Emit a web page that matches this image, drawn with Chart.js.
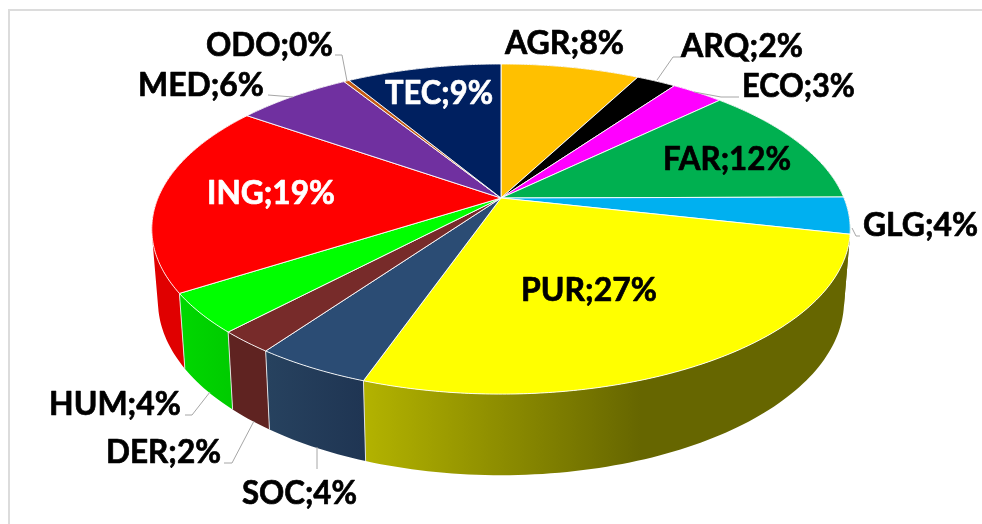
<!DOCTYPE html>
<html>
<head>
<meta charset="utf-8">
<style>html,body{margin:0;padding:0;background:#fff}canvas{display:block}</style>
<script src="https://cdn.jsdelivr.net/npm/chart.js@4"></script>
</head>
<body>
<canvas id="c" width="982" height="524"></canvas>
<script>
const categories = ['AGR','ARQ','ECO','FAR','GLG','PUR','SOC','DER','HUM','ING','MED','ODO','TEC'];
const values = [7.7,2.2,2.9,12.1,3.6,26.85,4.52,2.18,3.9,18.75,6.4,0.3,8.6];
const percentLabels = ['8%','2%','3%','12%','4%','27%','4%','2%','4%','19%','6%','0%','9%'];
const topColors = ['#FFC000','#000000','#FF00FF','#00B050','#00B0F0','#FFFF00','#2B4C74','#772B2A','#00FF00','#FF0000','#7030A0','#C55A11','#002060'];
const wallStart = ['#997300','#000000','#990099','#006A30','#666600','#B3B300','#27425F','#5F2321','#00D800','#E00000','#431D60','#76360A','#001339'];
const wallEnd   = ['#997300','#000000','#990099','#006A30','#666600','#666600','#1F3553','#5F2321','#00CC00','#E00000','#431D60','#76360A','#001339'];
const labelColors = ['#000','#000','#000','#000','#000','#000','#000','#000','#000','#fff','#000','#000','#fff'];
// [left x, baseline y, width] per category
const labelPlace = [[505,54,119],[681,57,122],[742,97,113],[663,170,128],[863,236,115],[521,301,136],[242,504,115],[106,463,115],[49,415,132],[207,204,128],[138,96,126],[206,56,127],[385,104,108]];
const leaders = [
  [[681,57],[673,57],[657,80]],
  [[739,97],[721,97],[694,92]],
  [[860,236],[856,236],[852,228]],
  [[185,415],[192,415],[210,392]],
  [[224,463],[232,463],[254,421]],
  [[317,447],[317,469]],
  [[268,95],[293,97]],
  [[335,55],[342,55],[347,81]]
];
// perspective projection of the unit disc: top face and bottom face
const topFace = {cx:501, R:343, a:122, b:198, p:-0.188};
const botFace = {cx:501, R:336.8, a:116.9, b:268, p:-0.19};
function proj(f, ang){
  const X = Math.cos(ang), Y = Math.sin(ang), d = 1 + f.p * Y;
  return [f.cx + f.R * X / d, (f.a * Y + f.b) / d];
}
const pie3d = {
  id:'pie3d',
  beforeDraw(chart){
    const ctx = chart.ctx;
    ctx.save();
    ctx.fillStyle='#fff'; ctx.fillRect(0,0,982,524);
    ctx.strokeStyle='#dcdcdc'; ctx.lineWidth=2;
    ctx.beginPath(); ctx.moveTo(9,524); ctx.lineTo(9,10); ctx.lineTo(982,10); ctx.stroke();
    ctx.restore();
  },
  beforeDatasetsDraw(chart){
    const ctx = chart.ctx;
    const arcs = chart.getDatasetMeta(0).data;
    ctx.save();
    // walls, back to front; every slice is one path of same-wound quads
    const order = arcs.map((a,i)=>i).sort((i,j)=>
      Math.sin((arcs[i].startAngle+arcs[i].endAngle)/2)-Math.sin((arcs[j].startAngle+arcs[j].endAngle)/2));
    order.forEach(i=>{
      const s=arcs[i].startAngle, e=arcs[i].endAngle;
      const n=Math.max(2,Math.ceil((e-s)/0.02));
      const x0=proj(topFace,s)[0], x1=proj(topFace,e)[0];
      const lo=Math.min(x0,x1), hi=Math.max(x0,x1);
      const g=ctx.createLinearGradient(lo,0,Math.max(hi,lo+1),0);
      g.addColorStop(0,wallStart[i]);
      g.addColorStop(categories[i]==='PUR'?0.57:1,wallEnd[i]);
      g.addColorStop(1,wallEnd[i]);
      ctx.fillStyle=g;
      ctx.beginPath();
      for(let k=0;k<n;k++){
        const a=s+(e-s)*k/n, b=s+(e-s)*(k+1)/n;
        let p=[proj(topFace,a),proj(topFace,b),proj(botFace,b),proj(botFace,a)];
        let area=0;
        for(let m=0;m<4;m++){const q=p[(m+1)%4]; area+=p[m][0]*q[1]-q[0]*p[m][1];}
        if(area<0) p=p.reverse();
        ctx.moveTo(p[0][0],p[0][1]);
        for(let m=1;m<4;m++) ctx.lineTo(p[m][0],p[m][1]);
        ctx.closePath();
      }
      ctx.fill();
    });
    // wall edges on the front of the pie
    ctx.strokeStyle='rgba(235,235,235,0.9)'; ctx.lineWidth=1;
    arcs.forEach(arc=>{
      if(Math.sin(arc.startAngle)<0.3) return;
      const t=proj(topFace,arc.startAngle), u=proj(botFace,arc.startAngle);
      ctx.beginPath(); ctx.moveTo(t[0],t[1]); ctx.lineTo(u[0],u[1]); ctx.stroke();
    });
    // top face
    arcs.forEach((arc,i)=>{
      const s=arc.startAngle, e=arc.endAngle;
      const n=Math.max(2,Math.ceil((e-s)/0.01));
      const c=[topFace.cx,topFace.b];
      ctx.beginPath(); ctx.moveTo(c[0],c[1]);
      for(let k=0;k<=n;k++){
        const p=proj(topFace,s+(e-s)*k/n);
        ctx.lineTo(p[0],p[1]);
      }
      ctx.closePath();
      ctx.fillStyle=arc.options.backgroundColor; ctx.fill();
      ctx.strokeStyle='rgba(255,255,255,0.9)'; ctx.lineWidth=1; ctx.stroke();
    });
    ctx.restore();
    return false;
  },
  afterDraw(chart){
    const ctx = chart.ctx;
    ctx.save();
    ctx.strokeStyle='#a6a6a6'; ctx.lineWidth=1;
    leaders.forEach(l=>{
      ctx.beginPath(); ctx.moveTo(l[0][0],l[0][1]);
      for(let k=1;k<l.length;k++) ctx.lineTo(l[k][0],l[k][1]);
      ctx.stroke();
    });
    ctx.font='bold 33px Lato';
    ctx.textAlign='left'; ctx.textBaseline='alphabetic';
    ctx.lineJoin='round';
    categories.forEach((c,i)=>{
      const lp=labelPlace[i];
      ctx.fillStyle=labelColors[i];
      ctx.strokeStyle=labelColors[i]; ctx.lineWidth=0.7;
      ctx.fillText(c+';'+percentLabels[i],lp[0],lp[1],lp[2]);
      ctx.strokeText(c+';'+percentLabels[i],lp[0],lp[1],lp[2]);
    });
    ctx.restore();
  }
};
new Chart(document.getElementById('c'),{
  type:'pie',
  data:{labels:categories,datasets:[{data:values,backgroundColor:topColors,borderWidth:0}]},
  options:{responsive:false,animation:false,plugins:{legend:{display:false},tooltip:{enabled:false}}},
  plugins:[pie3d]
});
</script>
</body>
</html>
